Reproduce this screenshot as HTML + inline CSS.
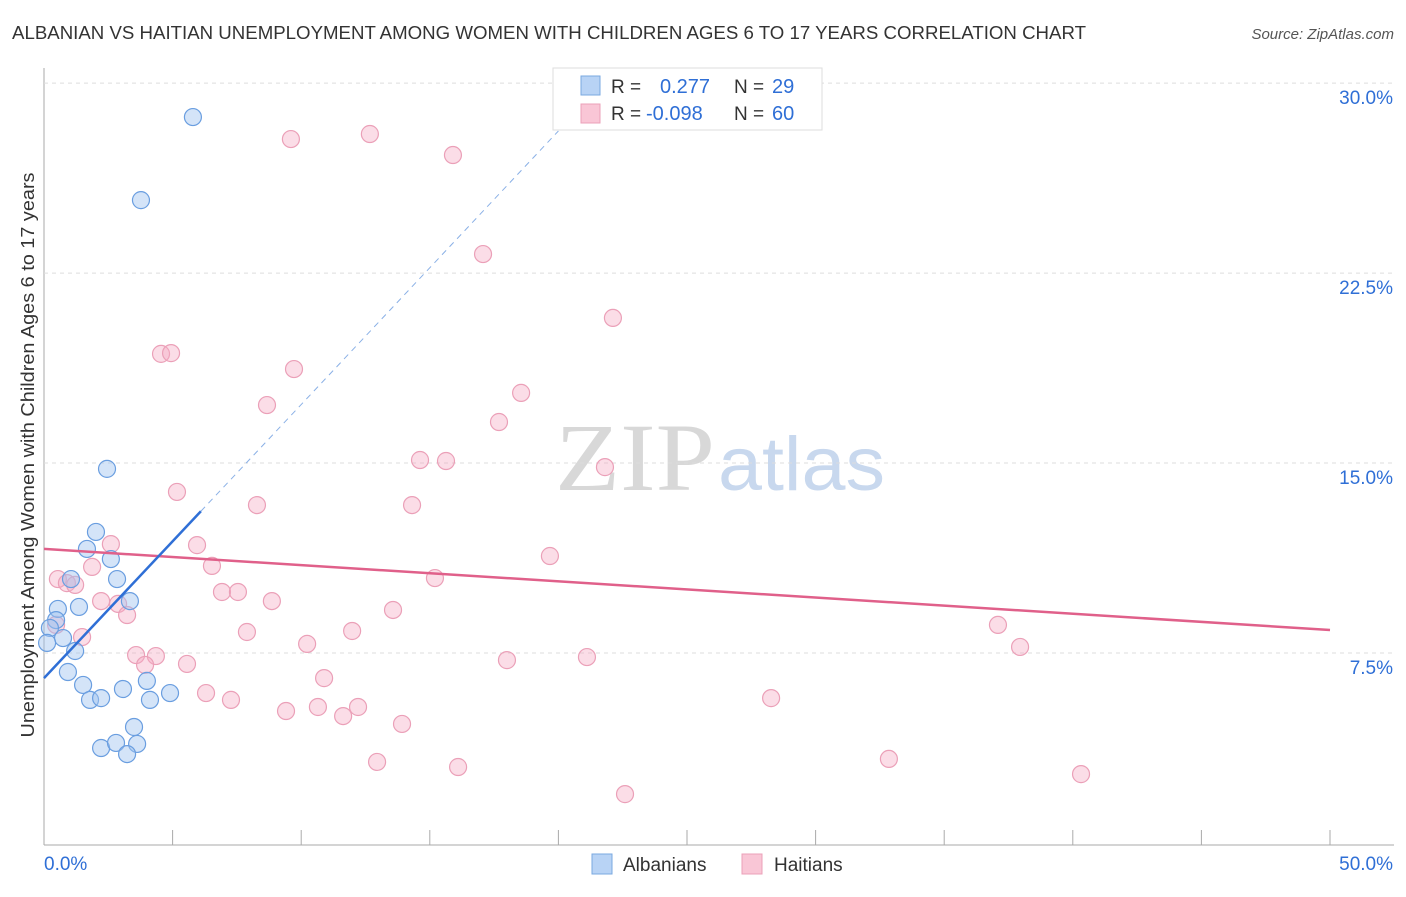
<!DOCTYPE html>
<html><head><meta charset="utf-8"><style>
body{margin:0;background:#fff;font-family:"Liberation Sans",sans-serif;}
</style></head><body>
<svg id="c" width="1406" height="892" style="font-family:'Liberation Sans',sans-serif">
<text x="12" y="39" font-size="18" fill="#333" textLength="1074" lengthAdjust="spacingAndGlyphs">ALBANIAN VS HAITIAN UNEMPLOYMENT AMONG WOMEN WITH CHILDREN AGES 6 TO 17 YEARS CORRELATION CHART</text>
<text x="1394" y="39" font-size="15" fill="#555" text-anchor="end" font-style="italic">Source: ZipAtlas.com</text>
<text x="555" y="490" font-size="96" fill="#d8d8d8" textLength="160" lengthAdjust="spacingAndGlyphs" font-family="Liberation Serif">ZIP</text>
<text x="718" y="490" font-size="76" fill="#c8d8ee" textLength="167" lengthAdjust="spacingAndGlyphs">atlas</text>
<text transform="translate(34,455) rotate(-90)" font-size="18" fill="#333" text-anchor="middle" textLength="565" lengthAdjust="spacingAndGlyphs">Unemployment Among Women with Children Ages 6 to 17 years</text>
<g id="grid"></g><g id="marks"></g>
<g>
<rect x="553" y="68" width="269" height="62" fill="#fff" stroke="#ddd"/>
<rect x="581" y="76" width="19" height="19" fill="#b8d3f5" stroke="#7aa8e0"/>
<rect x="581" y="104" width="19" height="19" fill="#f9c6d6" stroke="#eba0b8"/>
<text x="611" y="93" font-size="19" fill="#333">R = </text><text x="660" y="93" font-size="20" fill="#2f6fd6">0.277</text>
<text x="734" y="93" font-size="19" fill="#333">N = </text><text x="772" y="93" font-size="20" fill="#2f6fd6">29</text>
<text x="611" y="120" font-size="19" fill="#333">R = </text><text x="646" y="120" font-size="20" fill="#2f6fd6">-0.098</text>
<text x="734" y="120" font-size="19" fill="#333">N = </text><text x="772" y="120" font-size="20" fill="#2f6fd6">60</text>
</g>
<g>
<rect x="592" y="854" width="20" height="20" fill="#b8d3f5" stroke="#7aa8e0"/>
<text x="623" y="871" font-size="19" fill="#333">Albanians</text>
<rect x="742" y="854" width="20" height="20" fill="#f9c6d6" stroke="#eba0b8"/>
<text x="774" y="871" font-size="19" fill="#333">Haitians</text>
</g>
</svg>
<script>
const blueX=[5.79,3.77,2.45,2.02,1.67,2.60,1.05,2.84,0.54,1.36,3.34,0.47,0.23,0.74,0.12,1.21,0.93,1.52,3.07,4.00,4.90,1.79,2.22,4.12,3.50,2.22,2.80,3.62,3.23];
const blueY=[28.66,25.38,14.77,12.28,11.61,11.21,10.42,10.42,9.24,9.32,9.55,8.80,8.49,8.09,7.90,7.58,6.75,6.24,6.08,6.40,5.92,5.65,5.72,5.65,4.58,3.75,3.95,3.91,3.51];
const pinkX=[9.60,12.67,15.90,17.07,22.12,4.55,4.94,9.72,18.55,8.67,17.69,14.62,15.63,21.81,5.17,8.28,14.31,5.95,2.60,19.67,1.87,6.53,0.54,0.89,1.21,15.20,6.92,7.54,2.22,2.88,8.86,3.23,13.57,0.47,1.48,7.89,11.98,37.09,10.23,3.58,4.35,3.93,5.56,21.11,18.00,37.95,10.89,6.30,7.27,28.27,9.41,10.65,11.63,12.21,13.92,12.95,16.10,32.85,40.32,22.59];
const pinkY=[27.79,27.99,27.16,23.25,20.73,19.31,19.34,18.71,17.77,17.29,16.62,15.12,15.08,14.84,13.86,13.34,13.34,11.76,11.80,11.33,10.90,10.94,10.42,10.26,10.19,10.46,9.91,9.91,9.55,9.44,9.55,9.00,9.20,8.61,8.13,8.33,8.37,8.61,7.86,7.42,7.38,7.03,7.07,7.34,7.22,7.74,6.51,5.92,5.65,5.72,5.21,5.37,5.01,5.37,4.70,3.20,3.00,3.32,2.72,1.93];
const yTicks=[7.5,15,22.5,30];
const yTickLabels=["7.5%","15.0%","22.5%","30.0%"];
const xTicks=[0,5,10,15,20,25,30,35,40,45,50];
const blueTrend=[6.51,1.08];   // intercept, slope
const pinkTrend=[11.61,-0.064];
const X=v=>44+v*25.72, Y=v=>843-v*25.33;
const NS="http://www.w3.org/2000/svg";
function mk(t,a,p){const e=document.createElementNS(NS,t);for(const k in a)e.setAttribute(k,a[k]);p.appendChild(e);return e;}
const g=document.getElementById('grid'), m=document.getElementById('marks');
let ax=mk('line',{x1:44,y1:68,x2:44,y2:845,stroke:'#aaa'},g);


let bx=mk('line',{x1:44,y1:845,x2:1394,y2:845,stroke:'#aaa'},g);


yTicks.forEach((v,i)=>{
 let l=mk('line',{x1:44,y1:Y(v),x2:1394,y2:Y(v),stroke:'#ddd','stroke-dasharray':'4,4'},g);
 
 
 let t=mk('text',{x:1393,y:Y(v)+21,'font-size':19,fill:'#2f6fd6','text-anchor':'end'},g);t.textContent=yTickLabels[i];
 
 
});
xTicks.forEach(v=>{if(v>0){let l=mk('line',{x1:X(v),y1:830,x2:X(v),y2:845,stroke:'#aaa'},g);
 
 }});
let t0=mk('text',{x:44,y:870,'font-size':19,fill:'#2f6fd6'},g);t0.textContent='0.0%';


let t1=mk('text',{x:1393,y:870,'font-size':19,fill:'#2f6fd6','text-anchor':'end'},g);t1.textContent='50.0%';


pinkX.forEach((x,i)=>{let c=mk('circle',{cx:X(x),cy:Y(pinkY[i]),r:8.5,fill:'rgba(246,170,196,0.4)',stroke:'#eba0b8','stroke-width':1.2},m);
 
 });
blueX.forEach((x,i)=>{let c=mk('circle',{cx:X(x),cy:Y(blueY[i]),r:8.5,fill:'rgba(160,196,240,0.45)',stroke:'#6a9ee0','stroke-width':1.2},m);
 
 });
let pl=mk('line',{x1:X(0),y1:Y(pinkTrend[0]),x2:X(50),y2:Y(pinkTrend[0]+50*pinkTrend[1]),stroke:'#e0608a','stroke-width':2.5},m);


let bl=mk('line',{x1:X(0),y1:Y(blueTrend[0]),x2:X(6.1),y2:Y(blueTrend[0]+6.1*blueTrend[1]),stroke:'#2f6fd6','stroke-width':2.5},m);


let bd=mk('line',{x1:X(6.1),y1:Y(blueTrend[0]+6.1*blueTrend[1]),x2:X(20),y2:Y(blueTrend[0]+20*blueTrend[1]),stroke:'#8ab0e6','stroke-width':1,'stroke-dasharray':'6,5'},m);


</script>
</body></html>
